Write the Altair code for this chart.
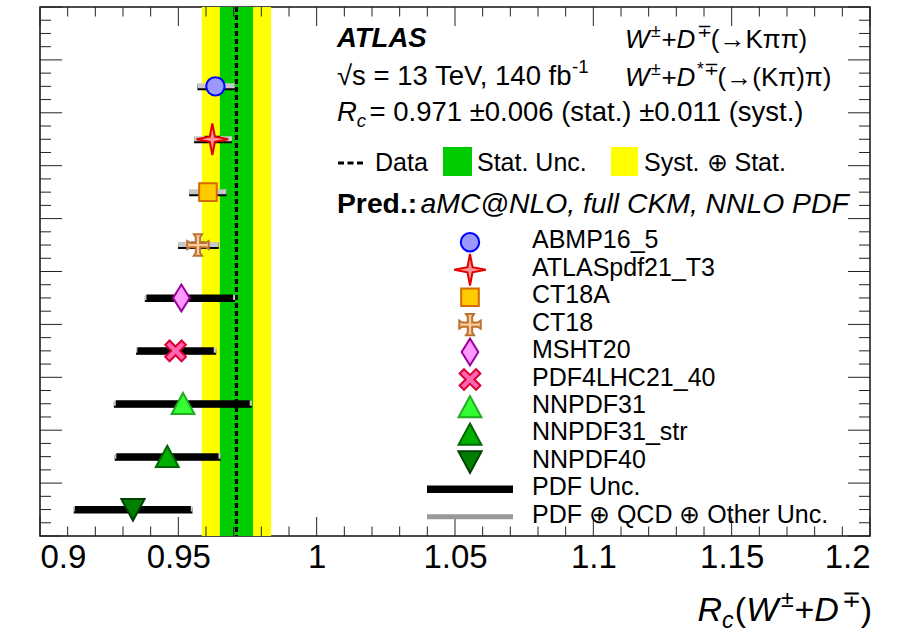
import altair as alt
import numpy as np
import pandas as pd

# ---------------------------------------------------------------------------
# Measured ratio R_c(W+D) and predictions for several PDF sets
# ---------------------------------------------------------------------------
rc_data = 0.971
rc_stat = 0.006
rc_syst = 0.011

pdf_sets = ["ABMP16_5", "ATLASpdf21_T3", "CT18A", "CT18", "MSHT20",
            "PDF4LHC21_40", "NNPDF31", "NNPDF31_str", "NNPDF40"]
pred_central = [0.9634, 0.9623, 0.9607, 0.9571, 0.9511, 0.9490, 0.9517, 0.9460, 0.9336]
pdf_lo = [0.9606, 0.9595, 0.9577, 0.9545, 0.9385, 0.9352, 0.9274, 0.9276, 0.9126]
pdf_hi = [0.9662, 0.9651, 0.9637, 0.9597, 0.9698, 0.9628, 0.9758, 0.9645, 0.9545]
tot_lo = [0.9569, 0.9557, 0.9539, 0.9499, 0.9379, 0.9347, 0.9267, 0.9270, 0.9122]
tot_hi = [0.9704, 0.9694, 0.9674, 0.9646, 0.9705, 0.9637, 0.9766, 0.9653, 0.9551]

line_labels = ["PDF Unc.", "PDF \u2295 QCD \u2295 Other Unc."]

x_major = [0.9, 0.95, 1.0, 1.05, 1.1, 1.15, 1.2]

# marker styles per PDF set
shapes = [
    "circle",
    "M0,-1 L0.16,-0.16 L1,0 L0.16,0.16 L0,1 L-0.16,0.16 L-1,0 L-0.16,-0.16 Z",
    "M-1,-1 L1,-1 L1,1 L-1,1 Z",
    "M-0.2,-0.72 L-0.38,-1 L0.38,-1 L0.2,-0.72 L0.2,-0.2 L0.72,-0.2 L1,-0.38 L1,0.38 "
    "L0.72,0.2 L0.2,0.2 L0.2,0.72 L0.38,1 L-0.38,1 L-0.2,0.72 L-0.2,0.2 L-0.72,0.2 "
    "L-1,0.38 L-1,-0.38 L-0.72,-0.2 L-0.2,-0.2 Z",
    "M0,-1 L0.62,0 L0,1 L-0.62,0 Z",
    "M-1,-0.58 L-0.58,-1 L0,-0.42 L0.58,-1 L1,-0.58 L0.42,0 L1,0.58 L0.58,1 L0,0.42 "
    "L-0.58,1 L-1,0.58 L-0.42,0 Z",
    "M0,-0.95 L1,0.9 L-1,0.9 Z",
    "M0,-0.95 L1,0.9 L-1,0.9 Z",
    "M-1,-0.9 L1,-0.9 L0,0.95 Z",
]
fills = ["#9999FF", "#FF9494", "#FFCC00", "#FFCC99", "#FF99FF",
         "#FF66B2", "#33FF33", "#00B000", "#008000"]
strokes = ["#0000FF", "#E00000", "#D46A00", "#B87333", "#990099",
           "#DD0033", "#22AA22", "#006400", "#004000"]
sizes = [340, 1000, 310, 460, 720, 430, 520, 520, 540]

# ---------------------------------------------------------------------------
# Layout
# ---------------------------------------------------------------------------
W, H = 830, 529
OX, OY = 40, 7
FONT = "Liberation Sans"

xs = alt.Scale(domain=[0.9, 1.2], nice=False, zero=False)
ys = alt.Scale(domain=[0, 10], nice=False, zero=False)
ys_leg = alt.Scale(domain=[0, 10], range=[242.3 - OY, 516.7 - OY], nice=False, zero=False)
xaxis = alt.Axis(values=x_major, format=".2~f", title=None)

n = len(pdf_sets)
pred = pd.DataFrame({
    "pdf": pdf_sets,
    "central": pred_central,
    "pdf_lo": pdf_lo, "pdf_hi": pdf_hi,
    "tot_lo": tot_lo, "tot_hi": tot_hi,
    "row": [n - 0.5 - i for i in range(n)],
    "leg": list(range(n)),
})

one = pd.DataFrame({"a": [0]})

# ---------------------------------------------------------------------------
# Text helpers
# ---------------------------------------------------------------------------
_REG = {" ": 278, "(": 333, ")": 333, "*": 389, "+": 584, ",": 278, "-": 333,
        ".": 278, ":": 278, "=": 584, "@": 1015, "_": 556, "\u00b1": 584,
        "\u2213": 780, "\u2192": 1000, "\u03c0": 580, "\u2295": 838, "\u221a": 549}
_REG.update({d: 556 for d in "0123456789"})
_REG.update(dict(zip("ABCDEFGHIJKLMNOPQRSTUVWXYZ",
                     [667, 667, 722, 722, 667, 611, 778, 722, 278, 500, 667, 556, 833,
                      722, 778, 667, 778, 722, 667, 611, 722, 667, 944, 667, 667, 611])))
_REG.update(dict(zip("abcdefghijklmnopqrstuvwxyz",
                     [556, 556, 500, 556, 556, 278, 556, 556, 222, 222, 500, 222, 833,
                      556, 556, 556, 556, 333, 500, 278, 556, 500, 722, 500, 500, 500])))
_BOLD = dict(_REG)
_BOLD.update({"A": 722, "B": 722, "L": 611, "R": 722, "d": 611, "r": 389, ":": 333})


def text_width(s, bold=False):
    table = _BOLD if bold else _REG
    return sum(table.get(c, 556) for c in s) / 1000.0


def txt(s, x, y, size, style="normal", weight="normal", align="left",
        baseline="alphabetic"):
    return alt.Chart(one).mark_text(
        text=s, font=FONT, fontSize=size, fontStyle=style, fontWeight=weight,
        align=align, baseline=baseline, color="black",
    ).encode(x=alt.value(x - OX), y=alt.value(y - OY))


def rich(pieces, x, y, size, anchor="left"):
    """pieces: (text, style, position, gap) with style n/i/b/bi, position None/sup/sub,
    gap an extra advance (in em) before the piece."""
    def piece_size(pos):
        return size * 0.68 if pos else size

    total = sum(text_width(t, "b" in st) * piece_size(pos) + g * size
                for t, st, pos, g in pieces)
    if anchor == "right":
        x -= total
    out = []
    for t, st, pos, g in pieces:
        x += g * size
        s = piece_size(pos)
        dy = -0.42 * size if pos == "sup" else (0.22 * size if pos == "sub" else 0)
        out.append(txt(t, x, y + dy, s,
                       style="italic" if "i" in st else "normal",
                       weight="bold" if "b" in st else "normal"))
        x += text_width(t, "b" in st) * s
    return out


# ---------------------------------------------------------------------------
# Data bands and line
# ---------------------------------------------------------------------------
tot_unc = float(np.hypot(rc_stat, rc_syst))
band_tot = alt.Chart(pd.DataFrame({"lo": [rc_data - tot_unc], "hi": [rc_data + tot_unc]})).mark_rect(
    color="#FFFF00").encode(x=alt.X("lo:Q", scale=xs, axis=xaxis), x2="hi:Q",
                           y=alt.value(0), y2=alt.value(H))
band_stat = alt.Chart(pd.DataFrame({"lo": [rc_data - rc_stat], "hi": [rc_data + rc_stat]})).mark_rect(
    color="#00CC00").encode(x=alt.X("lo:Q", scale=xs, axis=xaxis), x2="hi:Q",
                           y=alt.value(0), y2=alt.value(H))
data_line = alt.Chart(pd.DataFrame({"v": [rc_data]})).mark_rule(
    color="black", strokeWidth=3.2, strokeDash=[5, 3]).encode(
    x=alt.X("v:Q", scale=xs, axis=xaxis))

# ---------------------------------------------------------------------------
# Inward ticks on all four sides
# ---------------------------------------------------------------------------
x_minor = [v for v in np.round(np.arange(0.90, 1.2001, 0.01), 2)
           if not np.isclose(v, x_major).any()]
y_major = list(range(0, 11))
y_minor = [v for v in np.arange(0, 10.001, 0.25) if v % 1 != 0]

TICK = "#222222"


def xticks(vals, y0, y1):
    return alt.Chart(pd.DataFrame({"v": vals})).mark_rule(color=TICK, strokeWidth=1).encode(
        x=alt.X("v:Q", scale=xs, axis=xaxis), y=alt.value(y0), y2=alt.value(y1))


def yticks(vals, x0, x1):
    return alt.Chart(pd.DataFrame({"v": vals})).mark_rule(color=TICK, strokeWidth=1).encode(
        y=alt.Y("v:Q", scale=ys, axis=None), x=alt.value(x0), x2=alt.value(x1))


ticks = [
    xticks(x_major, H, H - 19), xticks(x_minor, H, H - 9.5),
    xticks(x_major, 0, 19), xticks(x_minor, 0, 9.5),
    yticks(y_major, 0, 22), yticks(y_minor, 0, 11),
    yticks(y_major, W, W - 22), yticks(y_minor, W, W - 11),
]

# ---------------------------------------------------------------------------
# Predictions: uncertainty bars and markers
# ---------------------------------------------------------------------------
base = alt.Chart(pred)
yrow = alt.Y("row:Q", scale=ys, axis=None)
bar_shadow = base.mark_rule(color="black", strokeWidth=6, yOffset=1).encode(
    x=alt.X("tot_lo:Q", scale=xs, axis=xaxis), x2="tot_hi:Q", y=yrow)
bar_total = base.mark_rule(color="#C8C8C8", strokeWidth=5, yOffset=-0.5).encode(
    x=alt.X("tot_lo:Q", scale=xs, axis=xaxis), x2="tot_hi:Q", y=yrow)
bar_pdf = base.mark_rule(color="black", strokeWidth=7).encode(
    x=alt.X("pdf_lo:Q", scale=xs, axis=xaxis), x2="pdf_hi:Q", y=yrow)

marker_enc = dict(
    shape=alt.Shape("pdf:N", scale=alt.Scale(domain=pdf_sets, range=shapes), legend=None),
    fill=alt.Fill("pdf:N", scale=alt.Scale(domain=pdf_sets, range=fills), legend=None),
    stroke=alt.Stroke("pdf:N", scale=alt.Scale(domain=pdf_sets, range=strokes), legend=None),
    size=alt.Size("pdf:N", scale=alt.Scale(type="ordinal", domain=pdf_sets, range=sizes),
                  legend=None),
)
markers = base.mark_point(filled=True, opacity=1, strokeWidth=2).encode(
    x=alt.X("central:Q", scale=xs, axis=xaxis), y=yrow, **marker_enc)

# ---------------------------------------------------------------------------
# Legend of predictions
# ---------------------------------------------------------------------------
yleg = alt.Y("leg:Q", scale=ys_leg, axis=None)
leg_markers = base.mark_point(filled=True, opacity=1, strokeWidth=2).encode(
    x=alt.value(470 - OX), y=yleg, **marker_enc)

leg_text_df = pd.DataFrame({"label": pdf_sets + line_labels,
                            "leg": list(range(n + len(line_labels)))})
leg_text = alt.Chart(leg_text_df).mark_text(
    align="left", baseline="middle", font=FONT, fontSize=25, dy=-2, color="black").encode(
    x=alt.value(532 - OX), y=yleg, text="label:N")

line_df = pd.DataFrame({"leg": [n, n + 1]})
leg_black = alt.Chart(line_df).transform_filter(alt.datum.leg == n).mark_rule(
    color="black", strokeWidth=7.5).encode(x=alt.value(427 - OX), x2=alt.value(513 - OX), y=yleg)
leg_gray = alt.Chart(line_df).transform_filter(alt.datum.leg == n + 1).mark_rule(
    color="#999999", strokeWidth=5).encode(x=alt.value(427 - OX), x2=alt.value(513 - OX), y=yleg)

# ---------------------------------------------------------------------------
# Header texts
# ---------------------------------------------------------------------------
texts = []
texts.append(txt("ATLAS", 337, 47, 27.5, style="italic", weight="bold"))
texts += rich([("W", "i", None, 0), ("\u00b1", "n", "sup", 0.06), ("+", "n", None, 0),
               ("D", "i", None, 0), ("\u2213", "n", "sup", 0.06),
               ("(\u2192K\u03c0\u03c0)", "n", None, 0)],
              625, 48, 26)
texts += rich([("\u221as = 13 TeV, 140 fb", "n", None, 0), ("-1", "n", "sup", -0.2)],
              337, 85, 27.5)
texts += rich([("W", "i", None, 0), ("\u00b1", "n", "sup", 0.06), ("+", "n", None, 0),
               ("D", "i", None, 0), ("*\u2213", "n", "sup", 0.06),
               ("(\u2192(K\u03c0)\u03c0)", "n", None, 0)], 625, 86, 26)
texts += rich([("R", "i", None, 0), ("c", "i", "sub", 0),
               (" = 0.971 \u00b10.006 (stat.) \u00b10.011 (syst.)", "n", None, 0.12)],
              337, 121, 27.5)

# data legend row
texts.append(alt.Chart(one).mark_rule(color="black", strokeWidth=3, strokeDash=[6, 3.5]).encode(
    x=alt.value(338 - OX), x2=alt.value(366 - OX), y=alt.value(163 - OY)))
texts.append(txt("Data", 375, 171, 25))
texts.append(alt.Chart(one).mark_rect(color="#00CC00").encode(
    x=alt.value(443 - OX), x2=alt.value(472 - OX), y=alt.value(147 - OY), y2=alt.value(176 - OY)))
texts.append(txt("Stat. Unc.", 477, 171, 25))
texts.append(alt.Chart(one).mark_rect(color="#FFFF00").encode(
    x=alt.value(611 - OX), x2=alt.value(638 - OX), y=alt.value(147 - OY), y2=alt.value(176 - OY)))
texts.append(txt("Syst. \u2295 Stat.", 644, 171, 25))

texts += rich([("Pred.:", "b", None, 0), (" aMC@NLO, full CKM, NNLO PDF", "i", None, 0.12)],
              337, 213, 28.3)

# x-axis title
texts += rich([("R", "i", None, 0), ("c", "i", "sub", 0), ("(", "n", None, 0.04),
               ("W", "i", None, 0), ("\u00b1", "n", "sup", 0.08), ("+", "n", None, 0),
               ("D", "i", None, 0), ("\u2213", "n", "sup", 0.08), (")", "n", None, 0.03)],
              872, 621, 34, anchor="right")

layers = [band_tot, band_stat, data_line] + ticks + [bar_shadow, bar_total, bar_pdf, markers,
          leg_black, leg_gray, leg_markers, leg_text] + texts

chart = alt.layer(*layers).resolve_scale(
    y="independent",
    shape="independent", fill="independent", stroke="independent", size="independent",
).properties(
    width=W, height=H,
    background="white",
    padding={"left": OX, "top": OY, "right": 908 - OX - W, "bottom": 633 - OY - H},
    autosize=alt.AutoSizeParams(type="none"),
).configure_view(
    stroke="#111111", strokeWidth=1.5,
).configure_axis(
    labelFont=FONT, labelFontSize=33, labelColor="black", labelPadding=5,
    ticks=False, domain=False, grid=False,
)

chart.save("out.html", embed_options={"renderer": "svg", "actions": False})
